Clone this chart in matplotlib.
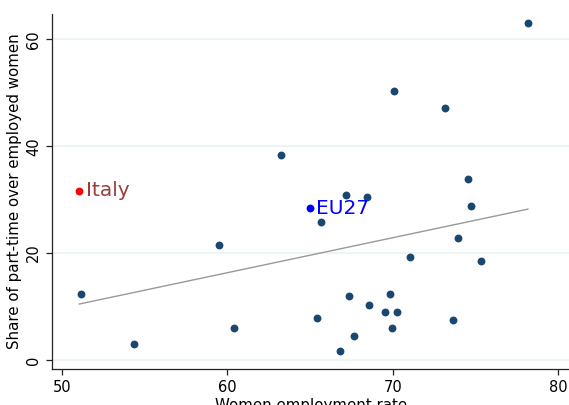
import numpy as np
import matplotlib
matplotlib.use("Agg")
import matplotlib.pyplot as plt

# women employment rate (%) and part-time share (%) by member state
emp_rate = [51.17, 54.39, 59.5, 60.41, 63.23, 78.16, 70.04, 73.14, 74.55, 67.14,
            68.43, 65.63, 74.75, 73.95, 71.04, 75.34, 67.32, 69.84, 68.53, 65.43,
            69.53, 70.24, 73.63, 69.94, 67.64, 66.82]
part_time = [12.3, 2.9, 21.5, 6.0, 38.4, 63.0, 50.3, 47.2, 33.8, 30.8,
             30.4, 25.9, 28.9, 22.8, 19.3, 18.5, 12.0, 12.3, 10.2, 7.9,
             9.0, 9.0, 7.4, 6.0, 4.4, 1.7]

italy = (51.06, 31.7)
eu27 = (64.98, 28.4)

# linear fit over every plotted point, Italy and EU27 included
fx = np.array(emp_rate + [italy[0], eu27[0]])
fy = np.array(part_time + [italy[1], eu27[1]])
slope, icpt = np.polyfit(fx, fy, 1)
fit_x = np.array([fx.min(), fx.max()])

fig = plt.figure(figsize=(5.69, 4.05), dpi=100)
ax = fig.add_axes([0.092, 0.089, 0.908, 0.876])

ax.scatter(emp_rate, part_time, s=32, color="#1a476f", zorder=3, linewidths=0)
ax.plot(fit_x, icpt + slope * fit_x, color="#999999", lw=1, zorder=2)

ax.scatter([italy[0]], [italy[1]], s=32, color="#ff0000", zorder=4, linewidths=0)
ax.text(italy[0] + 0.4, italy[1], "Italy", color="#993d3d", fontsize=14.5,
        va="center", ha="left")
ax.scatter([eu27[0]], [eu27[1]], s=32, color="#0000ff", zorder=4, linewidths=0)
ax.text(eu27[0] + 0.35, eu27[1], "EU27", color="#0000ff", fontsize=14.5,
        va="center", ha="left")

ax.set_xlim(49.43, 80.64)
ax.set_ylim(-1.68, 64.7)
ax.set_xticks([50, 60, 70, 80])
ax.set_yticks([0, 20, 40, 60])
ax.yaxis.grid(True, color="#eaf2f3", lw=1.2)
ax.set_axisbelow(True)

for side in ("top", "right"):
    ax.spines[side].set_visible(False)
for side in ("left", "bottom"):
    ax.spines[side].set_color("#222222")
    ax.spines[side].set_linewidth(0.9)

ax.tick_params(axis="both", labelsize=10.5, length=4.5, width=0.9, color="#222222")
plt.setp(ax.get_yticklabels(), rotation=90, va="center")

ax.set_ylabel("Share of part-time over employed women", fontsize=10.8, labelpad=3)
ax.set_xlabel("Women employment rate", fontsize=10.8, labelpad=2)

fig.savefig("out.png", dpi=100)
